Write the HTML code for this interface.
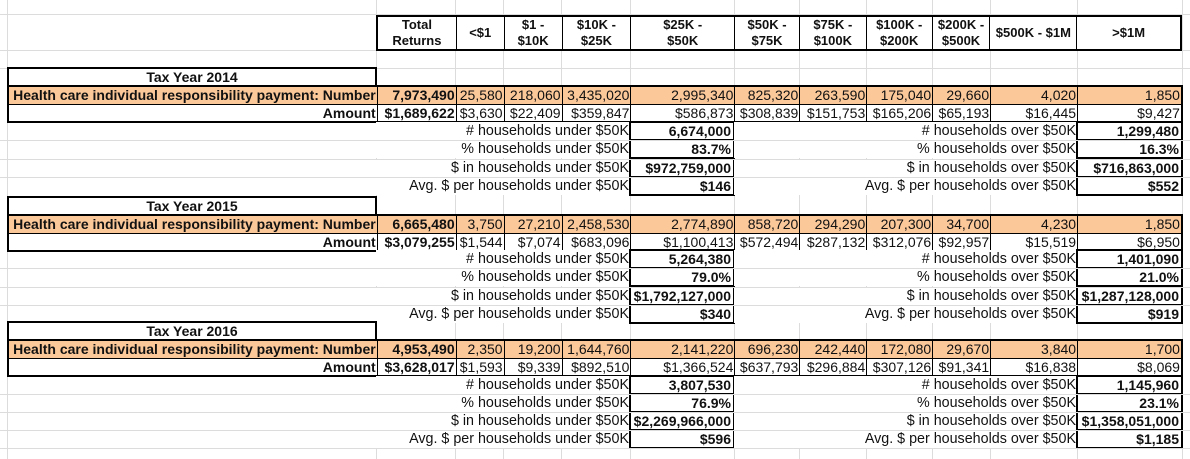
<!DOCTYPE html>
<html><head><meta charset="utf-8"><style>
body{margin:0;width:1190px;height:459px;background:#fff;overflow:hidden;position:relative;font-family:"Liberation Sans",Arial,sans-serif;font-size:14px;color:#111}
.hl{position:absolute;left:0;width:1190px;height:1px;background:#dcdcdc}
.vl{position:absolute;top:0;height:459px;width:1px;background:#dcdcdc}
.hdr{position:absolute;left:376px;top:15px;width:806px;height:36px;border:2px solid #000;box-sizing:border-box;display:flex;background:#fff}
.hdr div{border-right:1px solid #000;display:flex;align-items:center;justify-content:center;text-align:center;font-weight:bold;font-size:13px;line-height:16px;box-sizing:border-box}
.hdr div:last-child{border-right:none}
.ty{position:absolute;left:7px;width:370px;height:20px;border:2px solid #000;box-sizing:border-box;font-weight:bold;text-align:center;line-height:16px;background:#fff}
.blk{position:absolute;left:7px;width:1176px;height:38px;border:2px solid #000;box-sizing:border-box;background:#fff}
.row{display:flex;height:17px;line-height:17px}
.row.o{background:#fbc89a;border-bottom:1px solid #000}
.row div{border-right:1px solid #000;text-align:right;padding-right:1px;box-sizing:border-box;white-space:nowrap;overflow:hidden}
.row div:last-child{border-right:none}
.row div:first-child,.row div:nth-child(2){font-weight:bold}
.row div:first-child{font-size:14px}
.lab{position:absolute;text-align:right;white-space:nowrap;height:18px;line-height:18px;padding-right:2px;box-sizing:border-box;font-size:14.3px;background:#fff}
.val{position:absolute;height:20px;border:2px solid #000;box-sizing:border-box;text-align:right;font-weight:bold;line-height:16px;padding-right:2px;background:#fff}
</style></head><body>
<div class="hl" style="top:14px"></div><div class="hl" style="top:50px"></div><div class="hl" style="top:68px"></div>
<div class="vl" style="left:7px"></div><div class="vl" style="left:376px"></div><div class="vl" style="left:455px"></div><div class="vl" style="left:503px"></div><div class="vl" style="left:561px"></div><div class="vl" style="left:630px"></div><div class="vl" style="left:734px"></div><div class="vl" style="left:799px"></div><div class="vl" style="left:866px"></div><div class="vl" style="left:932px"></div><div class="vl" style="left:990px"></div><div class="vl" style="left:1077px"></div><div class="vl" style="left:1182px"></div>

<div class="hdr">
<div style="width:79px">Total<br>Returns</div><div style="width:48px">&lt;$1</div><div style="width:58px">$1 -<br>$10K</div><div style="width:69px">$10K -<br>$25K</div><div style="width:104px">$25K -<br>$50K</div><div style="width:65px">$50K -<br>$75K</div><div style="width:67px">$75K -<br>$100K</div><div style="width:66px">$100K -<br>$200K</div><div style="width:58px">$200K -<br>$500K</div><div style="width:87px">$500K - $1M</div><div style="width:103px">&gt;$1M</div>
</div>

<div class="ty" style="top:67px">Tax Year 2014</div>
<div class="blk" style="top:85px">
<div class="row o"><div style="width:369px">Health care individual responsibility payment: Number</div><div style="width:79px">7,973,490</div><div style="width:48px">25,580</div><div style="width:58px">218,060</div><div style="width:69px">3,435,020</div><div style="width:104px">2,995,340</div><div style="width:65px">825,320</div><div style="width:67px">263,590</div><div style="width:66px">175,040</div><div style="width:58px">29,660</div><div style="width:87px">4,020</div><div style="width:103px">1,850</div></div>
<div class="row"><div style="width:369px">Amount</div><div style="width:79px">$1,689,622</div><div style="width:48px">$3,630</div><div style="width:58px">$22,409</div><div style="width:69px">$359,847</div><div style="width:104px">$586,873</div><div style="width:65px">$308,839</div><div style="width:67px">$151,753</div><div style="width:66px">$165,206</div><div style="width:58px">$65,193</div><div style="width:87px">$16,445</div><div style="width:103px">$9,427</div></div>
</div>
<div class="lab" style="left:376px;width:255px;top:122px"># households under $50K</div><div class="val" style="left:629px;width:106px;top:121px">6,674,000</div>
<div class="lab" style="left:376px;width:255px;top:140px">% households under $50K</div><div class="val" style="left:629px;width:106px;top:139px">83.7%</div>
<div class="lab" style="left:376px;width:255px;top:159px">$ in households under $50K</div><div class="val" style="left:629px;width:106px;top:158px">$972,759,000</div>
<div class="lab" style="left:376px;width:255px;top:177px">Avg. $ per households under $50K</div><div class="val" style="left:629px;width:106px;top:176px">$146</div>
<div class="lab" style="left:734px;width:344px;top:122px"># households over $50K</div><div class="val" style="left:1076px;width:107px;top:121px">1,299,480</div>
<div class="lab" style="left:734px;width:344px;top:140px">% households over $50K</div><div class="val" style="left:1076px;width:107px;top:139px">16.3%</div>
<div class="lab" style="left:734px;width:344px;top:159px">$ in households over $50K</div><div class="val" style="left:1076px;width:107px;top:158px">$716,863,000</div>
<div class="lab" style="left:734px;width:344px;top:177px">Avg. $ per households over $50K</div><div class="val" style="left:1076px;width:107px;top:176px">$552</div>

<div class="ty" style="top:196px">Tax Year 2015</div>
<div class="blk" style="top:214px">
<div class="row o"><div style="width:369px">Health care individual responsibility payment: Number</div><div style="width:79px">6,665,480</div><div style="width:48px">3,750</div><div style="width:58px">27,210</div><div style="width:69px">2,458,530</div><div style="width:104px">2,774,890</div><div style="width:65px">858,720</div><div style="width:67px">294,290</div><div style="width:66px">207,300</div><div style="width:58px">34,700</div><div style="width:87px">4,230</div><div style="width:103px">1,850</div></div>
<div class="row"><div style="width:369px">Amount</div><div style="width:79px">$3,079,255</div><div style="width:48px">$1,544</div><div style="width:58px">$7,074</div><div style="width:69px">$683,096</div><div style="width:104px">$1,100,413</div><div style="width:65px">$572,494</div><div style="width:67px">$287,132</div><div style="width:66px">$312,076</div><div style="width:58px">$92,957</div><div style="width:87px">$15,519</div><div style="width:103px">$6,950</div></div>
</div>
<div class="lab" style="left:376px;width:255px;top:250px"># households under $50K</div><div class="val" style="left:629px;width:106px;top:249px">5,264,380</div>
<div class="lab" style="left:376px;width:255px;top:268px">% households under $50K</div><div class="val" style="left:629px;width:106px;top:267px">79.0%</div>
<div class="lab" style="left:376px;width:255px;top:287px">$ in households under $50K</div><div class="val" style="left:629px;width:106px;top:286px">$1,792,127,000</div>
<div class="lab" style="left:376px;width:255px;top:305px">Avg. $ per households under $50K</div><div class="val" style="left:629px;width:106px;top:304px">$340</div>
<div class="lab" style="left:734px;width:344px;top:250px"># households over $50K</div><div class="val" style="left:1076px;width:107px;top:249px">1,401,090</div>
<div class="lab" style="left:734px;width:344px;top:268px">% households over $50K</div><div class="val" style="left:1076px;width:107px;top:267px">21.0%</div>
<div class="lab" style="left:734px;width:344px;top:287px">$ in households over $50K</div><div class="val" style="left:1076px;width:107px;top:286px">$1,287,128,000</div>
<div class="lab" style="left:734px;width:344px;top:305px">Avg. $ per households over $50K</div><div class="val" style="left:1076px;width:107px;top:304px">$919</div>

<div class="ty" style="top:321px">Tax Year 2016</div>
<div class="blk" style="top:339px">
<div class="row o"><div style="width:369px">Health care individual responsibility payment: Number</div><div style="width:79px">4,953,490</div><div style="width:48px">2,350</div><div style="width:58px">19,200</div><div style="width:69px">1,644,760</div><div style="width:104px">2,141,220</div><div style="width:65px">696,230</div><div style="width:67px">242,440</div><div style="width:66px">172,080</div><div style="width:58px">29,670</div><div style="width:87px">3,840</div><div style="width:103px">1,700</div></div>
<div class="row"><div style="width:369px">Amount</div><div style="width:79px">$3,628,017</div><div style="width:48px">$1,593</div><div style="width:58px">$9,339</div><div style="width:69px">$892,510</div><div style="width:104px">$1,366,524</div><div style="width:65px">$637,793</div><div style="width:67px">$296,884</div><div style="width:66px">$307,126</div><div style="width:58px">$91,341</div><div style="width:87px">$16,838</div><div style="width:103px">$8,069</div></div>
</div>
<div class="lab" style="left:376px;width:255px;top:376px"># households under $50K</div><div class="val" style="left:629px;width:106px;top:375px">3,807,530</div>
<div class="lab" style="left:376px;width:255px;top:394px">% households under $50K</div><div class="val" style="left:629px;width:106px;top:393px">76.9%</div>
<div class="lab" style="left:376px;width:255px;top:412px">$ in households under $50K</div><div class="val" style="left:629px;width:106px;top:411px">$2,269,966,000</div>
<div class="lab" style="left:376px;width:255px;top:430px">Avg. $ per households under $50K</div><div class="val" style="left:629px;width:106px;top:429px">$596</div>
<div class="lab" style="left:734px;width:344px;top:376px"># households over $50K</div><div class="val" style="left:1076px;width:107px;top:375px">1,145,960</div>
<div class="lab" style="left:734px;width:344px;top:394px">% households over $50K</div><div class="val" style="left:1076px;width:107px;top:393px">23.1%</div>
<div class="lab" style="left:734px;width:344px;top:412px">$ in households over $50K</div><div class="val" style="left:1076px;width:107px;top:411px">$1,358,051,000</div>
<div class="lab" style="left:734px;width:344px;top:430px">Avg. $ per households over $50K</div><div class="val" style="left:1076px;width:107px;top:429px">$1,185</div>

<div class="hl" style="top:140px"></div><div class="hl" style="top:159px"></div><div class="hl" style="top:177px"></div>
<div class="hl" style="top:268px"></div><div class="hl" style="top:287px"></div><div class="hl" style="top:305px"></div>
<div class="hl" style="top:394px"></div><div class="hl" style="top:412px"></div><div class="hl" style="top:430px"></div><div class="hl" style="top:448px"></div>
</body></html>
